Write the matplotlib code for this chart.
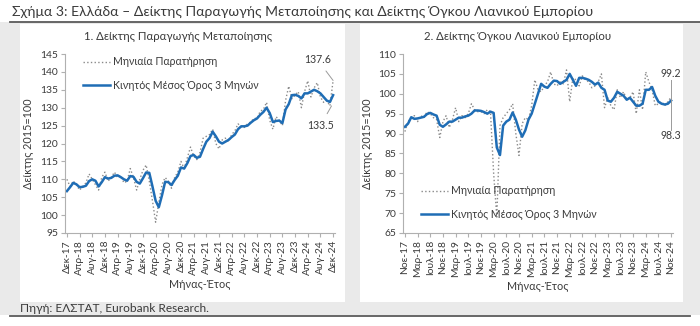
import matplotlib.pyplot as plt
from matplotlib.patches import Rectangle
from matplotlib.lines import Line2D

plt.rcParams['font.family'] = ['Lato', 'DejaVu Sans']

# --- Chart 1: manufacturing production index, Dec-17 .. Dec-24 ---
ind_monthly = [110.0, 108.0, 109.5, 108.5, 107.0, 108.0, 109.0, 111.5, 110.0, 108.5,
               107.0, 110.5, 112.0, 109.5, 110.5, 112.0, 110.5, 111.0, 109.0, 109.5,
               113.0, 110.5, 107.0, 110.0, 112.5, 114.0, 109.5, 104.0, 98.0, 103.5,
               108.5, 110.5, 109.5, 107.5, 110.5, 112.0, 115.0, 113.0, 116.0, 119.0,
               116.5, 115.5, 117.5, 121.5, 122.0, 122.5, 124.0, 120.0, 118.5, 121.0,
               121.5, 120.5, 122.5, 123.5, 125.5, 124.5, 124.5, 125.5, 126.0, 127.0,
               127.0, 129.0, 129.5, 131.5, 126.5, 124.0, 127.5, 126.5, 125.0, 132.0,
               136.0, 132.5, 133.5, 134.5, 130.0, 134.5, 137.5, 133.0, 135.5, 137.0,
               133.0, 131.5, 132.0, 130.5, 137.6]
ind_ma3 = [106.7, 107.8, 109.0, 108.6, 107.8, 107.9, 108.2, 109.5, 110.0, 109.6,
           108.0, 109.2, 110.6, 110.2, 110.4, 111.0, 111.1, 110.6, 110.0, 109.6,
           110.9, 110.7, 109.3, 108.8, 110.3, 111.9, 111.8, 108.0, 104.0, 102.2,
           105.5, 109.3, 109.2, 108.4, 109.8, 111.0, 113.3, 113.0, 114.5, 116.5,
           116.8, 116.0, 116.3, 118.5, 120.5, 121.5, 123.3, 122.0, 120.5, 120.0,
           120.5, 121.0, 121.8, 122.5, 124.0, 124.8, 124.8, 125.0, 125.8, 126.5,
           127.0, 128.0, 128.8, 130.0, 128.5, 126.0, 126.3, 126.4, 125.7, 129.5,
           131.0, 133.5, 133.6, 133.3, 132.6, 134.0, 134.0, 134.5, 135.0, 134.6,
           134.0, 133.0, 132.0, 131.6, 133.5]
ind_ticklabels = ['Δεκ-17', 'Απρ-18', 'Αυγ-18', 'Δεκ-18', 'Απρ-19', 'Αυγ-19', 'Δεκ-19',
                  'Απρ-20', 'Αυγ-20', 'Δεκ-20', 'Απρ-21', 'Αυγ-21', 'Δεκ-21', 'Απρ-22',
                  'Αυγ-22', 'Δεκ-22', 'Απρ-23', 'Αυγ-23', 'Δεκ-23', 'Απρ-24', 'Αυγ-24',
                  'Δεκ-24']

# --- Chart 2: retail trade volume index, Nov-17 .. Nov-24 ---
ret_monthly = [90.5, 93.0, 94.0, 94.5, 93.0, 94.5, 94.0, 95.5, 95.0, 94.0,
               93.5, 89.0, 93.0, 94.5, 91.5, 93.5, 96.5, 93.0, 94.5, 94.0,
               95.0, 97.5, 96.0, 95.5, 95.5, 95.0, 96.0, 95.5, 80.0, 69.0,
               92.0, 94.0, 95.0, 96.0, 97.5, 90.0, 84.5, 92.5, 94.0, 93.5,
               97.0, 103.5, 101.0, 100.5, 102.0, 103.0, 105.5, 102.5, 102.0, 103.0,
               102.5, 106.0, 98.0, 104.0, 103.5, 102.0, 104.5, 103.5, 103.0, 101.5,
               102.0, 103.0, 105.0, 96.5, 99.0, 97.0, 96.0, 101.0, 99.0, 100.5,
               98.5, 99.0, 100.5, 95.0, 101.0, 96.0, 105.5, 103.0, 101.0, 97.0,
               97.5, 98.0, 97.0, 98.0, 99.2]
ret_ma3 = [91.7, 92.5, 94.1, 93.7, 93.8, 94.0, 94.2, 94.9, 95.2, 94.8,
           94.5, 92.2, 91.7, 92.3, 93.0, 93.0, 93.5, 94.0, 94.0, 94.3,
           94.5, 95.0, 95.8, 95.8, 95.7, 95.4, 95.0, 95.5, 95.2, 86.5,
           84.6, 92.0, 93.0, 93.5, 95.3, 93.5, 91.0, 89.2, 90.8, 93.5,
           95.0, 97.5, 100.0, 102.5, 101.8, 101.5, 102.5, 103.3, 103.2, 102.5,
           103.0, 103.5, 105.0, 103.5, 102.0, 104.0, 104.0, 103.8, 103.5, 103.0,
           102.3, 102.8, 101.5, 101.0, 98.3, 98.0, 99.0, 100.5, 100.0, 99.5,
           98.5, 99.0, 98.0, 97.0, 97.0, 97.5, 101.0, 101.0, 101.7, 99.5,
           98.0, 97.5, 97.3, 97.5, 98.3]
ret_ticklabels = ['Νοε-17', 'Μαρ-18', 'Ιουλ-18', 'Νοε-18', 'Μαρ-19', 'Ιουλ-19', 'Νοε-19',
                  'Μαρ-20', 'Ιουλ-20', 'Νοε-20', 'Μαρ-21', 'Ιουλ-21', 'Νοε-21', 'Μαρ-22',
                  'Ιουλ-22', 'Νοε-22', 'Μαρ-23', 'Ιουλ-23', 'Νοε-23', 'Μαρ-24', 'Ιουλ-24',
                  'Νοε-24']

BLUE = '#1f6db5'
GREY = '#8a8a8a'
TXT = '#3a3a3a'
W, H = 700, 326


def px(x0, y0, x1, y1):
    # pixel box (top-left origin) -> figure fraction rect
    return [x0 / W, 1 - y1 / H, (x1 - x0) / W, (y1 - y0) / H]


fig = plt.figure(figsize=(7, 3.26), dpi=100)
fig.patch.set_facecolor('white')

# background band and white panels
fig.patches.append(Rectangle((0, 1 - 315 / H), 1, (315 - 22) / H, transform=fig.transFigure,
                             facecolor='#eaeaea', edgecolor='none', zorder=-3))
for x0, x1 in [(20, 345), (360, 683)]:
    r = px(x0, 24, x1, 302)
    fig.patches.append(Rectangle((r[0], r[1]), r[2], r[3], transform=fig.transFigure,
                                 facecolor='white', edgecolor='none', zorder=-2))
fig.lines.append(Line2D([10 / W, 1], [1 - 22 / H] * 2, transform=fig.transFigure,
                        color='#5a5a5a', lw=1.3))
fig.lines.append(Line2D([10 / W, 690 / W], [1 - 316 / H] * 2, transform=fig.transFigure,
                        color='#5a5a5a', lw=1.3))

fig.text(12 / W, 1 - 12 / H, 'Σχήμα 3: Ελλάδα – Δείκτης Παραγωγής Μεταποίησης και Δείκτης Όγκου Λιανικού Εμπορίου',
         fontsize=10.1, color=TXT, va='center', ha='left')
fig.text(20 / W, 1 - 308 / H, 'Πηγή: ΕΛΣΤΑΤ, Eurobank Research.',
         fontsize=8.6, color=TXT, va='center', ha='left')


def style(ax, ticklabels, ylim, step, title, title_x):
    ax.set_facecolor('none')
    ax.set_xlim(-0.6, 84.6)
    ax.set_ylim(*ylim)
    ax.set_yticks(range(ylim[0], ylim[1] + 1, step))
    ax.set_xticks(range(0, 85, 4))
    ax.set_xticklabels(ticklabels, rotation=90)
    for s in ['top', 'right']:
        ax.spines[s].set_visible(False)
    for s in ['left', 'bottom']:
        ax.spines[s].set_color('#b0b0b0')
        ax.spines[s].set_linewidth(0.8)
    ax.tick_params(colors='#b0b0b0', labelcolor=TXT, labelsize=7.4, length=3, width=0.8, pad=2)
    ax.set_ylabel('Δείκτης 2015=100', fontsize=7.8, color=TXT, labelpad=4)
    ax.set_xlabel('Μήνας-Έτος', fontsize=7.8, color=TXT, labelpad=3)
    fig.text(title_x / W, 1 - 36 / H, title, fontsize=8.2, color=TXT, ha='center', va='center')


# left chart
ax1 = fig.add_axes(px(65, 54, 335, 233))
ax1.plot(range(len(ind_monthly)), ind_monthly, ls=':', color=GREY, lw=1.0, label='Μηνιαία Παρατήρηση')
ax1.plot(range(len(ind_ma3)), ind_ma3, color=BLUE, lw=1.8, label='Κινητός Μέσος Όρος 3 Μηνών')
style(ax1, ind_ticklabels, (95, 145), 5, '1. Δείκτης Παραγωγής Μεταποίησης', 178)
ax1.legend(loc='upper left', bbox_to_anchor=(0.03, 1.04), frameon=False, fontsize=7.6,
           handlelength=2.6, labelspacing=1.2, labelcolor=TXT, handletextpad=0.3)
ax1.annotate(f'{ind_monthly[-1]:.1f}', xy=(84, ind_monthly[-1]), xytext=(79, 143.5),
             fontsize=7.6, color=TXT, ha='center', va='center',
             arrowprops=dict(arrowstyle='-', color='#9a9a9a', lw=0.7, shrinkA=3, shrinkB=0))
ax1.annotate(f'{ind_ma3[-1]:.1f}', xy=(83.5, 130.5), xytext=(80, 125),
             fontsize=7.6, color=TXT, ha='center', va='center',
             arrowprops=dict(arrowstyle='-', color='#9a9a9a', lw=0.7, shrinkA=3, shrinkB=0))

# right chart
ax2 = fig.add_axes(px(403, 54, 673, 233))
ax2.plot(range(len(ret_monthly)), ret_monthly, ls=':', color=GREY, lw=1.0, label='Μηνιαία Παρατήρηση')
ax2.plot(range(len(ret_ma3)), ret_ma3, color=BLUE, lw=1.8, label='Κινητός Μέσος Όρος 3 Μηνών')
style(ax2, ret_ticklabels, (65, 110), 5, '2. Δείκτης Όγκου Λιανικού Εμπορίου', 518)
ax2.legend(loc='lower left', bbox_to_anchor=(0.03, 0.02), frameon=False, fontsize=7.6,
           handlelength=2.6, labelspacing=1.2, labelcolor=TXT, handletextpad=0.3)
ax2.plot([84, 84], [103.5, 91.0], color='#9a9a9a', lw=0.7)
ax2.text(84, 105, f'{ret_monthly[-1]:.1f}', fontsize=7.6, color=TXT, ha='center', va='center')
ax2.text(84, 89.5, f'{ret_ma3[-1]:.1f}', fontsize=7.6, color=TXT, ha='center', va='center')

fig.savefig('out.png', dpi=100)
